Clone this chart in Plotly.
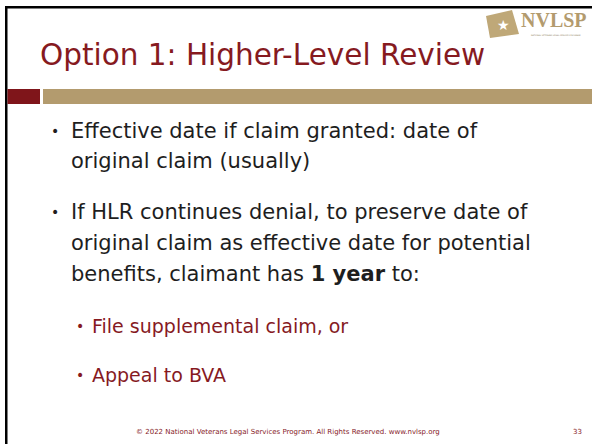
import plotly.graph_objects as go

W, H = 592, 444
title_text = "Option 1: Higher-Level Review"
bullet_lines = [
    ["Effective date if claim granted: date of", "original claim (usually)"],
    ["If HLR continues denial, to preserve date of",
     "original claim as effective date for potential",
     "benefits, claimant has <b>1 year</b> to:"],
]
bullet_y = [[131, 161], [212, 243, 274]]
sub_bullets = ["File supplemental claim, or", "Appeal to BVA"]
sub_y = [326, 375]
footer_text = "© 2022 National Veterans Legal Services Program. All Rights Reserved. www.nvlsp.org"
page_no = "33"

RED = "#861A1F"
TAN = "#B39B6E"
TXT = "#1E1E1E"
FONT = "DejaVu Sans"

fig = go.Figure()
shapes = [
    dict(type="rect", x0=5, x1=7.5, y0=6, y1=H, fillcolor="black", line_width=0),
    dict(type="rect", x0=5, x1=W, y0=6, y1=8.5, fillcolor="black", line_width=0),
    dict(type="rect", x0=7.5, x1=40, y0=89, y1=104, fillcolor="#7F151A", line_width=0),
    dict(type="rect", x0=43, x1=W, y0=89, y1=104, fillcolor=TAN, line_width=0),
    dict(type="path", path="M 486 16 L 512 10 L 519 34 L 490 38 Z", fillcolor="#BFA878", line_width=0),
]
for s in shapes:
    s.update(xref="x", yref="y", layer="above")
fig.update_layout(shapes=shapes)

ann = []
ann.append(dict(x=38, y=55, text=title_text, font=dict(family=FONT, size=29.5, color=RED),
                xanchor="left", yanchor="middle"))
for lines, ys in zip(bullet_lines, bullet_y):
    ann.append(dict(x=49, y=ys[0], text="•", font=dict(family=FONT, size=14, color=TXT),
                    xanchor="left", yanchor="middle"))
    for t, y in zip(lines, ys):
        ann.append(dict(x=69, y=y, text=t, font=dict(family=FONT, size=21, color=TXT),
                        xanchor="left", yanchor="middle"))
for t, y in zip(sub_bullets, sub_y):
    ann.append(dict(x=74, y=y, text="•", font=dict(family=FONT, size=14, color=RED),
                    xanchor="left", yanchor="middle"))
    ann.append(dict(x=90, y=y, text=t, font=dict(family=FONT, size=19, color=RED),
                    xanchor="left", yanchor="middle"))
ann.append(dict(x=288, y=432, text=footer_text, font=dict(family=FONT, size=7, color=RED),
                xanchor="center", yanchor="middle"))
ann.append(dict(x=577, y=432, text=page_no, font=dict(family=FONT, size=7, color=RED),
                xanchor="center", yanchor="middle"))
ann.append(dict(x=503, y=25, text="★", font=dict(family=FONT, size=14, color="white"),
                xanchor="center", yanchor="middle"))
ann.append(dict(x=520, y=20, text="<b>NVLSP</b>", font=dict(family="Liberation Serif", size=20, color=TAN),
                xanchor="left", yanchor="middle", borderpad=0))
ann.append(dict(x=556, y=35, text="NATIONAL VETERANS LEGAL SERVICES PROGRAM",
                font=dict(family=FONT, size=2, color="#8a7a5a"),
                xanchor="center", yanchor="middle", borderpad=0))
for a in ann:
    a.update(xref="x", yref="y", showarrow=False)
fig.update_layout(annotations=ann)

fig.update_layout(
    width=W, height=H, margin=dict(l=0, r=0, t=0, b=0),
    paper_bgcolor="white", plot_bgcolor="white",
    xaxis=dict(range=[0, W], visible=False, fixedrange=True),
    yaxis=dict(range=[H, 0], visible=False, fixedrange=True),
    showlegend=False,
)
fig.write_html("out.html", config={"displayModeBar": False},
               post_script="document.body.style.margin='0';document.body.style.overflow='hidden';")
